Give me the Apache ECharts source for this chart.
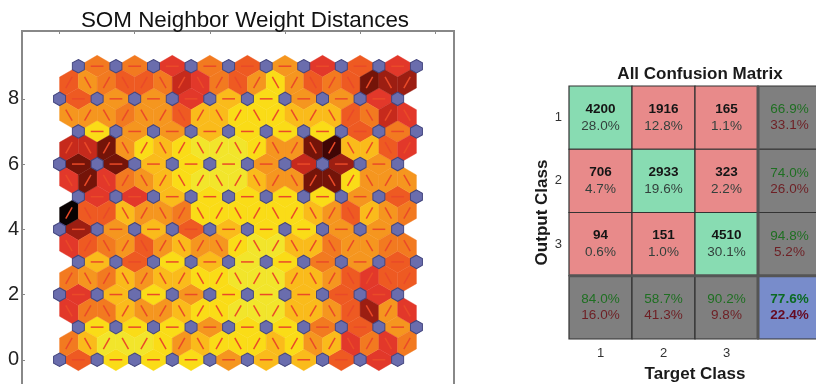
<!DOCTYPE html>
<html>
<head>
<meta charset="utf-8">
<title>SOM distances and confusion matrix</title>
<script src="https://cdn.jsdelivr.net/npm/echarts@6/dist/echarts.min.js"></script>
<style>
html, body { margin: 0; padding: 0; background: #fff; overflow: hidden; }
#main { width: 816px; height: 384px; }
</style>
</head>
<body>
<div id="main"></div>
<script>
// distance level of every horizontal link, bottom row first
const horizLinks = [
	[5, 1, 1, 1, 3, 2, 2, 5, 6],
	[1, 1, 1, 3, 1, 1, 4, 5, 3],
	[6, 2, 1, 3, 1, 0, 2, 5, 6],
	[2, 5, 1, 2, 0, 1, 4, 3, 5],
	[8, 3, 2, 5, 2, 1, 1, 3, 3],
	[6, 6, 2, 1, 1, 1, 1, 3, 5],
	[9, 9, 2, 1, 0, 3, 7, 8, 3],
	[1, 3, 3, 2, 1, 1, 1, 5, 4],
	[5, 3, 3, 6, 2, 1, 3, 3, 6],
	[4, 4, 6, 4, 5, 3, 6, 5, 6]
]
// distance level of the zigzag links between row r and r + 1, left to right
const diagLinks = [
	[4, 2, 0, 0, 0, 1, 3, 2, 1, 1, 1, 2, 1, 3, 2, 6, 4, 6, 4],
	[6, 4, 4, 2, 3, 3, 2, 1, 1, 0, 0, 0, 2, 2, 3, 5, 8, 3, 6],
	[4, 3, 4, 2, 3, 2, 2, 1, 1, 0, 0, 0, 2, 2, 3, 5, 6, 5, 5],
	[6, 5, 4, 3, 5, 3, 2, 3, 3, 1, 0, 0, 2, 2, 4, 3, 3, 4, 4],
	[11, 5, 5, 2, 3, 3, 4, 1, 1, 1, 1, 1, 1, 2, 3, 5, 2, 3, 4],
	[6, 9, 6, 4, 3, 2, 1, 0, 0, 0, 2, 3, 3, 9, 9, 1, 3, 3, 3],
	[7, 7, 9, 3, 1, 2, 1, 0, 0, 0, 1, 3, 3, 9, 10, 2, 2, 5, 6],
	[3, 3, 3, 4, 3, 3, 5, 2, 2, 1, 1, 1, 2, 2, 2, 5, 4, 7, 6],
	[5, 3, 4, 5, 5, 4, 7, 6, 4, 5, 3, 1, 3, 5, 4, 5, 9, 8, 8]
]
const levelColors = ['#F2E52B', '#FADC17', '#FABB1B', '#F5961F', '#F27A20', '#EE5A22', '#E2382A', '#C62A1C', '#9C1E12', '#741409', '#400605', '#080202']

const nodesPerRow = 10
const rowCount = 10

const matrixCounts = [[4200, 1916, 165], [706, 2933, 323], [94, 151, 4510]]
const matrixPercents = [['28.0%', '12.8%', '1.1%'], ['4.7%', '19.6%', '2.2%'], ['0.6%', '1.0%', '30.1%']]
const outputCorrect = ['66.9%', '74.0%', '94.8%']
const outputWrong = ['33.1%', '26.0%', '5.2%']
const targetCorrect = ['84.0%', '58.7%', '90.2%']
const targetWrong = ['16.0%', '41.3%', '9.8%']
const totalCorrect = '77.6%'
const totalWrong = '22.4%'
const classLabels = ['1', '2', '3', '']

const rowOffset = r => (r % 2 ? 0.5 : 0)

const nodeData = []
for (let r = 0; r < rowCount; r++) {
	for (let c = 0; c < nodesPerRow; c++) nodeData.push([c + rowOffset(r), r])
}

const linkData = []
horizLinks.forEach((row, r) => {
	row.forEach((level, c) => {
		linkData.push([c + rowOffset(r), r, c + 1 + rowOffset(r), r, level])
	})
})
diagLinks.forEach((row, r) => {
	row.forEach((level, k) => {
		// the zigzag starts on the node further left, which swaps with each row
		const lowerC = r % 2 ? Math.floor(k / 2) : Math.ceil(k / 2)
		const upperC = r % 2 ? Math.ceil(k / 2) : Math.floor(k / 2)
		linkData.push([lowerC + rowOffset(r), r, upperC + rowOffset(r + 1), r + 1, level])
	})
})

const ROW_SCALE = Math.sqrt(0.75)

function renderLink(params, api) {
	const x1 = api.value(0), y1 = api.value(1), x2 = api.value(2), y2 = api.value(3)
	const mx = (x1 + x2) / 2, my = (y1 + y2) / 2
	const dx = x2 - x1, dy = (y2 - y1) * ROW_SCALE
	// side corners sit on the triangle centroids either side of the link
	const k = ROW_SCALE / 3
	const px = -dy * k, py = dx * k / ROW_SCALE
	const a = api.coord([x1, y1]), b = api.coord([x2, y2])
	const l = api.coord([mx + px, my + py]), r = api.coord([mx - px, my - py])
	const s = api.coord([mx - (x2 - x1) * 0.17, my - (y2 - y1) * 0.17])
	const e = api.coord([mx + (x2 - x1) * 0.17, my + (y2 - y1) * 0.17])
	const fill = levelColors[api.value(4)]
	return {
		type: 'group',
		children: [
			{ type: 'polygon', shape: { points: [a, l, b, r] }, style: { fill: fill, stroke: fill, lineWidth: 0.4 } },
			{ type: 'line', z2: 5, shape: { x1: s[0], y1: s[1], x2: e[0], y2: e[1] }, style: { stroke: '#EA4A28', lineWidth: 1.5 } }
		]
	}
}

const cellData = []
for (let r = 0; r < 4; r++) {
	for (let c = 0; c < 4; c++) cellData.push([c, r])
}

function cellText(c, r) {
	if (r < 3 && c < 3) return { top: String(matrixCounts[r][c]), bottom: matrixPercents[r][c], main: true }
	if (c === 3 && r < 3) return { top: outputCorrect[r], bottom: outputWrong[r] }
	if (r === 3 && c < 3) return { top: targetCorrect[c], bottom: targetWrong[c] }
	return { top: totalCorrect, bottom: totalWrong, total: true }
}

function cellFill(c, r) {
	if (c === 3 && r === 3) return '#788CCB'
	if (c === 3 || r === 3) return '#7F7F7F'
	return c === r ? '#88DCB2' : '#E88A8A'
}

function renderCell(params, api) {
	const c = api.value(0), r = api.value(1)
	const center = api.coord([c, r])
	const size = api.size([1, 1])
	const x = center[0] - size[0] / 2, y = center[1] - size[1] / 2
	const t = cellText(c, r)
	const rich = t.main ? {
		a: { font: 'bold 13.5px "Liberation Sans"', fill: '#151515', lineHeight: 17 },
		b: { font: '13.5px "Liberation Sans"', fill: '#33403c', lineHeight: 17 }
	} : {
		a: { font: (t.total ? 'bold ' : '') + '13.5px "Liberation Sans"', fill: t.total ? '#0B6A22' : '#1F6F22', lineHeight: 16 },
		b: { font: (t.total ? 'bold ' : '') + '13.5px "Liberation Sans"', fill: t.total ? '#660B22' : '#6E1F24', lineHeight: 16 }
	}
	const children = [
		{ type: 'rect', shape: { x: x, y: y, width: size[0], height: size[1] }, style: { fill: cellFill(c, r), stroke: '#333', lineWidth: 1.2 } },
		{ type: 'text', z2: 5, style: { x: center[0], y: center[1], align: 'center', verticalAlign: 'middle', text: '{a|' + t.top + '}\n{b|' + t.bottom + '}', rich: rich } }
	]
	if (c === 3) children.push({ type: 'line', z2: 4, shape: { x1: x, y1: y, x2: x, y2: y + size[1] }, style: { stroke: '#555', lineWidth: 3 } })
	if (r === 3) children.push({ type: 'line', z2: 4, shape: { x1: x, y1: y, x2: x + size[0], y2: y }, style: { stroke: '#555', lineWidth: 3 } })
	return { type: 'group', children: children }
}

const chart = echarts.init(document.getElementById('main'), null, { renderer: 'canvas' })
const sans = '"Liberation Sans", Arial, sans-serif'
chart.setOption({
	animation: false,
	textStyle: { fontFamily: sans },
	title: [
		{ text: 'SOM Neighbor Weight Distances', left: 240, top: 5, textAlign: 'center', textStyle: { fontFamily: sans, fontSize: 22.4, fontWeight: 'normal', color: '#111' } },
		{ text: 'All Confusion Matrix', left: 695, top: 61, textAlign: 'center', textStyle: { fontFamily: sans, fontSize: 17, fontWeight: 'bold', color: '#1a1a1a' } }
	],
	grid: [
		{ left: 22, top: 31, width: 432, height: 394, show: true, borderColor: '#888', borderWidth: 2, backgroundColor: '#fff', outerBoundsMode: 'none' },
		{ left: 569, top: 86, width: 252, height: 253, outerBoundsMode: 'none' }
	],
	xAxis: [
		{
			type: 'value', gridIndex: 0, position: 'top', min: -1, max: 10.5,
			axisLine: { show: false, onZero: false }, splitLine: { show: false }, axisLabel: { show: false },
			axisTick: { show: true, inside: true, length: 3, customValues: [0, 2, 4, 6, 8, 10], lineStyle: { color: '#888' } }
		},
		{
			type: 'category', gridIndex: 1, data: classLabels, position: 'bottom',
			axisLine: { show: false }, axisTick: { show: false }, splitLine: { show: false },
			axisLabel: { fontSize: 13, color: '#333', margin: 8, fontFamily: sans },
			name: 'Target Class', nameLocation: 'middle', nameGap: 27,
			nameTextStyle: { fontFamily: sans, fontSize: 17, fontWeight: 'bold', color: '#1a1a1a' }
		}
	],
	yAxis: [
		{
			type: 'value', gridIndex: 0, min: -2, max: 10.08,
			axisLine: { show: false, onZero: false }, splitLine: { show: false },
			axisLabel: { fontSize: 20, color: '#222', margin: 3, fontFamily: sans, customValues: [0, 2, 4, 6, 8] },
			axisTick: { show: true, inside: true, length: 3, customValues: [0, 2, 4, 6, 8], lineStyle: { color: '#888' } }
		},
		{
			type: 'category', gridIndex: 1, data: classLabels, inverse: true,
			axisLine: { show: false }, axisTick: { show: false }, splitLine: { show: false },
			axisLabel: { fontSize: 13, color: '#333', margin: 7, fontFamily: sans },
			name: 'Output Class', nameLocation: 'middle', nameGap: 18, nameRotate: 90,
			nameTextStyle: { fontFamily: sans, fontSize: 17, fontWeight: 'bold', color: '#1a1a1a' }
		}
	],
	series: [
		{ type: 'custom', xAxisIndex: 0, yAxisIndex: 0, renderItem: renderLink, data: linkData, z: 2, silent: true, encode: { x: [0, 2], y: [1, 3] } },
		{
			type: 'scatter', xAxisIndex: 0, yAxisIndex: 0, data: nodeData, z: 3, silent: true,
			symbol: 'path://M0 -2 L1.732 -1 L1.732 1 L0 2 L-1.732 1 L-1.732 -1 Z', symbolSize: [12, 13.5], symbolKeepAspect: false,
			itemStyle: { color: '#6A6DAD', borderColor: '#43457E', borderWidth: 1, opacity: 1 }
		},
		{ type: 'custom', xAxisIndex: 1, yAxisIndex: 1, renderItem: renderCell, data: cellData, z: 2, silent: true, encode: { x: 0, y: 1 } }
	]
})
</script>
</body>
</html>
